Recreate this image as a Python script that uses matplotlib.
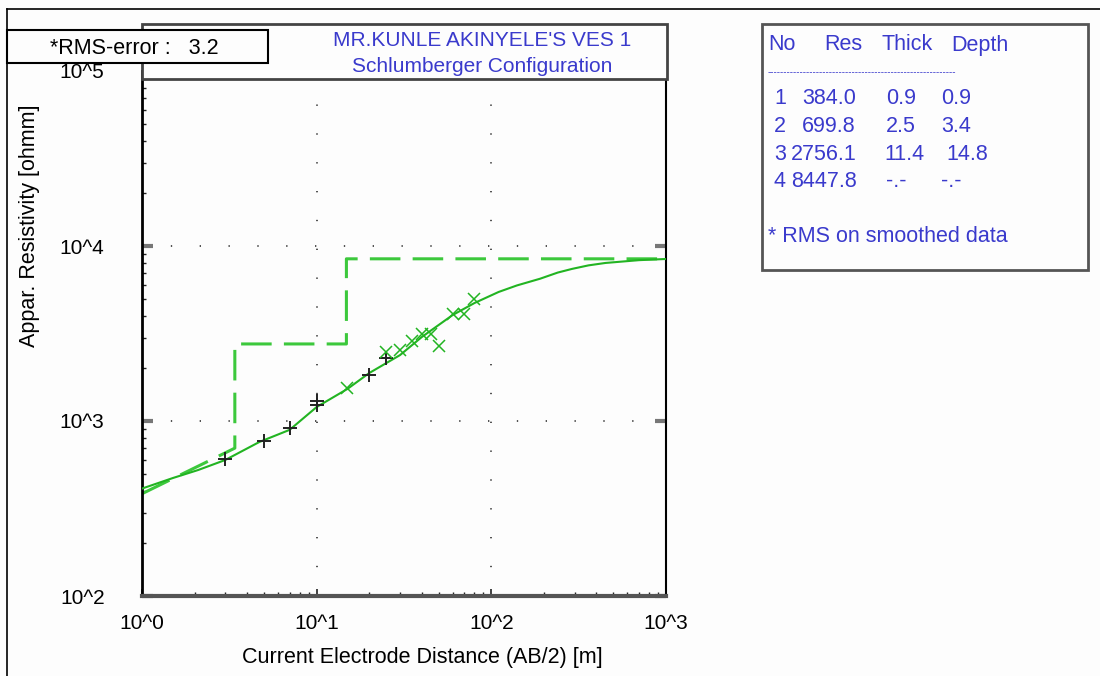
import numpy as np
import matplotlib
matplotlib.use('Agg')
import matplotlib.pyplot as plt
from matplotlib.patches import Rectangle
from matplotlib.lines import Line2D

plt.rcParams['font.family'] = ['Liberation Sans', 'DejaVu Sans']

# field data (AB/2 [m], apparent resistivity [ohmm])
ab2_plus = [3, 5, 7, 10, 10, 20, 25]
rho_plus = [608, 770, 912, 1230, 1300, 1824, 2280]
ab2_cross = [15, 25, 30, 35, 40, 45, 50, 60, 70, 80]
rho_cross = [1542, 2466, 2530, 2884, 3160, 3160, 2700, 4110, 4110, 5000]

# calculated curve
ab2_curve = [1, 1.5, 2.1, 3, 4.7, 7, 10, 15, 20, 30, 40, 60, 80, 110, 140, 190,
             240, 290, 360, 450, 700, 1000]
rho_curve = [411, 472, 525, 599, 759, 890, 1202, 1525, 1880, 2380, 3020, 4030, 4720, 5460, 5950, 6500,
             7050, 7400, 7750, 8000, 8300, 8430]

# layered model (step line)
model_x = [1.0, 3.4, 3.4, 14.8, 14.8, 1000]
model_y = [384, 699.8, 2756.1, 2756.1, 8447.8, 8447.8]

# layer table
layer_no = [1, 2, 3, 4]
layer_res = ['384.0', '699.8', '2756.1', '8447.8']
layer_thick = ['0.9', '2.5', '11.4', '-.-']
layer_depth = ['0.9', '3.4', '14.8', '-.-']

x_ticks = [1, 10, 100, 1000]
x_ticklabels = ['10^0', '10^1', '10^2', '10^3']
y_ticks = [100, 1000, 10000, 100000]
y_ticklabels = ['10^2', '10^3', '10^4', '10^5']

W, H = 1100, 676
def fx(px):
    return px / W
def fy(py):
    return 1 - py / H

blue = '#3a3acc'
green = '#22b422'
lightgreen = '#3cc83c'
fs = 15.5

fig = plt.figure(figsize=(11, 6.76), dpi=100)
fig.patch.set_facecolor('#fdfdfd')
ax = fig.add_axes([fx(142), fy(596), (666 - 142) / W, (596 - 71) / H])
ax.set_facecolor('#fdfdfd')
ax.set_xscale('log')
ax.set_yscale('log')
ax.set_xlim(1, 1000)
ax.set_ylim(100, 100000)

# dotted grid at decades
for v in [10, 100]:
    ax.axvline(v, color='#333333', lw=1.2, dashes=(0.8, 16.5), zorder=1)
for v in [1000, 10000]:
    ax.axhline(v, color='#333333', lw=1.2, dashes=(0.8, 16.5), zorder=1)

ax.plot(model_x, model_y, color=lightgreen, lw=2.2, dashes=(10, 4), zorder=2)
ax.plot(ab2_curve, rho_curve, color=green, lw=1.5, zorder=3)
ax.plot(ab2_plus, rho_plus, '+', color='#222222', ms=10, mew=1.4, zorder=4)
ax.plot(ab2_cross, rho_cross, 'x', color=green, ms=8, mew=1.1, zorder=4)

ax.set_xticks(x_ticks)
ax.set_xticklabels(x_ticklabels)
ax.set_yticks(y_ticks)
ax.set_yticklabels(y_ticklabels)
ax.tick_params(axis='both', which='major', direction='in', length=8, width=3,
               color='#777777', labelsize=15, right=True, top=False)
ax.tick_params(axis='x', which='major', pad=13)
ax.tick_params(axis='y', which='major', pad=27)
ax.tick_params(axis='both', which='minor', direction='in', length=3, width=1,
               color='#222222', right=False, top=False)
ax.tick_params(axis='x', which='major', length=5, width=1.2, color='#222222')

ax.spines['left'].set_linewidth(2)
ax.spines['bottom'].set_linewidth(3)
ax.spines['bottom'].set_color('#555555')
ax.spines['right'].set_linewidth(1.5)
ax.spines['top'].set_visible(False)

fig.text(fx(422), fy(657), 'Current Electrode Distance (AB/2) [m]', fontsize=fs,
         ha='center', va='center')
fig.text(fx(30), fy(226), 'Appar. Resistivity [ohmm]', fontsize=fs, rotation=90,
         ha='center', va='center')

# outer frame lines
fig.add_artist(Line2D([fx(7), 1], [fy(9), fy(9)], color='black', lw=1.2))
fig.add_artist(Line2D([fx(7), fx(7)], [fy(9), 0], color='black', lw=1.2))

# title box
fig.add_artist(Rectangle((fx(142), fy(79)), (667 - 142) / W, (79 - 24) / H,
                         transform=fig.transFigure, facecolor='#fdfdfd',
                         edgecolor='#444444', lw=2, zorder=5))
fig.text(fx(482), fy(41), "MR.KUNLE AKINYELE'S VES 1", color=blue, fontsize=15,
         ha='center', va='center', zorder=6)
fig.text(fx(482), fy(67), 'Schlumberger Configuration', color=blue, fontsize=15,
         ha='center', va='center', zorder=6)

# RMS box
fig.add_artist(Rectangle((fx(7), fy(63)), (268 - 7) / W, (63 - 30) / H,
                         transform=fig.transFigure, facecolor='#fdfdfd',
                         edgecolor='black', lw=1.5, zorder=7))
fig.text(fx(50), fy(48), '*RMS-error :   3.2', color='black', fontsize=fs,
         ha='left', va='center', zorder=8)

# layer table box
fig.add_artist(Rectangle((fx(762), fy(270)), (1088 - 762) / W, (270 - 24) / H,
                         transform=fig.transFigure, facecolor='#fdfdfd',
                         edgecolor='#555555', lw=2, zorder=5))
fig.text(fx(768), fy(45), 'No', color=blue, fontsize=fs, ha='left', va='center', zorder=6)
fig.text(fx(824), fy(45), 'Res', color=blue, fontsize=fs, ha='left', va='center', zorder=6)
fig.text(fx(882), fy(45), 'Thick', color=blue, fontsize=fs, ha='left', va='center', zorder=6)
fig.text(fx(951), fy(45), 'Depth', color=blue, fontsize=fs, ha='left', va='center', zorder=6)
fig.text(fx(768), fy(72), '-' * 58, color=blue, fontsize=7,
         ha='left', va='center', zorder=6)
for i in range(len(layer_no)):
    yy = fy(99 + i * 27.5)
    fig.text(fx(774), yy, str(layer_no[i]), color=blue, fontsize=fs,
             ha='left', va='center', zorder=6)
    fig.text(fx(791 if len(layer_res[i]) > 5 else 802), yy, layer_res[i], color=blue,
             fontsize=fs, ha='left', va='center', zorder=6)
    fig.text(fx(884 if len(layer_thick[i]) > 3 else 886), yy, layer_thick[i], color=blue,
             fontsize=fs, ha='left', va='center', zorder=6)
    fig.text(fx(946 if len(layer_depth[i]) > 3 else 941), yy, layer_depth[i], color=blue,
             fontsize=fs, ha='left', va='center', zorder=6)
fig.text(fx(768), fy(236), '* RMS on smoothed data', color=blue, fontsize=fs,
         ha='left', va='center', zorder=6)

plt.savefig('out.png', dpi=100)
